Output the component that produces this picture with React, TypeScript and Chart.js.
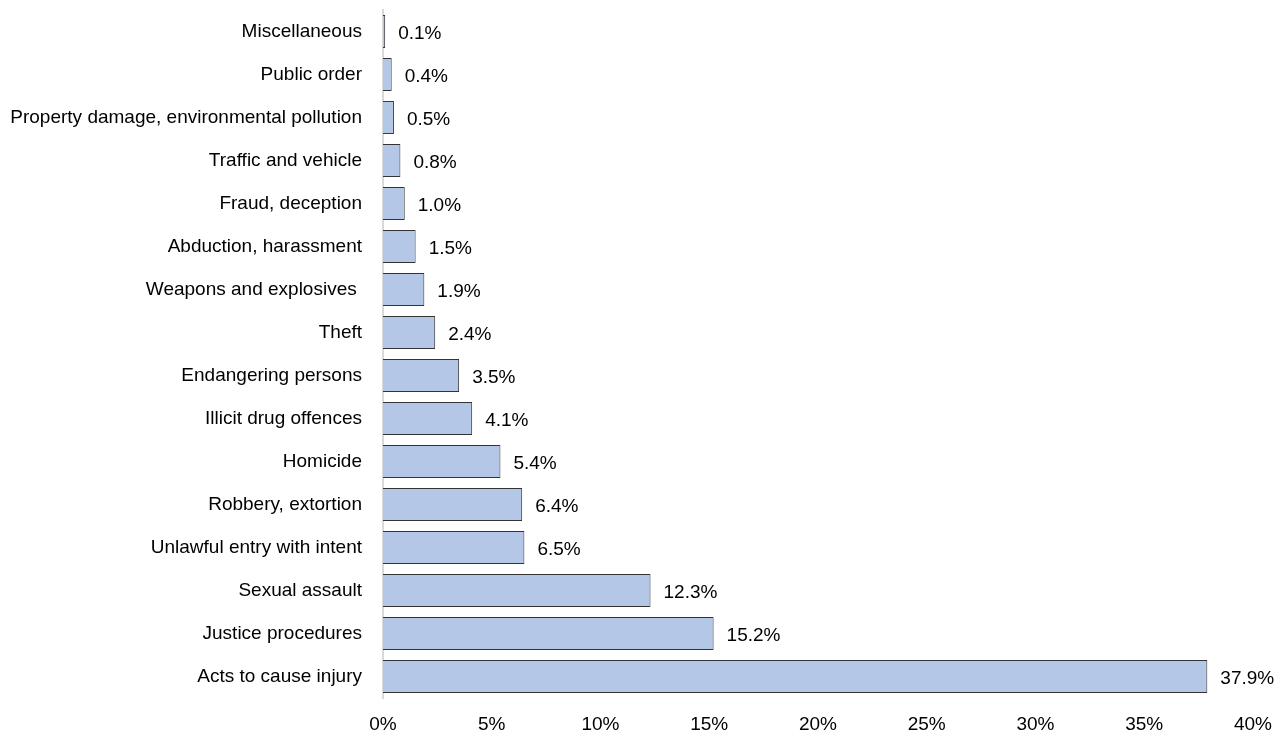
import React, { useEffect, useRef } from "react";
import { Chart, registerables } from "chart.js";

Chart.register(...registerables);

const categories: string[] = [
  "Miscellaneous",
  "Public order",
  "Property damage, environmental pollution",
  "Traffic and vehicle",
  "Fraud, deception",
  "Abduction, harassment",
  "Weapons and explosives ",
  "Theft",
  "Endangering persons",
  "Illicit drug offences",
  "Homicide",
  "Robbery, extortion",
  "Unlawful entry with intent",
  "Sexual assault",
  "Justice procedures",
  "Acts to cause injury",
];

const shares: number[] = [0.1, 0.4, 0.5, 0.8, 1.0, 1.5, 1.9, 2.4, 3.5, 4.1, 5.4, 6.4, 6.5, 12.3, 15.2, 37.9];

const xTicks: number[] = [0, 5, 10, 15, 20, 25, 30, 35, 40];

const FONT = "'Liberation Sans', Arial, sans-serif";

const valueLabels = {
  id: "valueLabels",
  afterDatasetsDraw(chart: any) {
    const ctx = chart.ctx;
    const meta = chart.getDatasetMeta(0);
    ctx.save();
    ctx.fillStyle = "#000";
    ctx.font = `19px ${FONT}`;
    ctx.textAlign = "left";
    ctx.textBaseline = "middle";
    meta.data.forEach((bar: any, i: number) => {
      const v = chart.data.datasets[0].data[i] as number;
      ctx.fillText(v.toFixed(1) + "%", bar.x + 13, bar.y + 2);
    });
    ctx.restore();
  },
};

export default function App() {
  const ref = useRef<HTMLCanvasElement | null>(null);
  useEffect(() => {
    if (!ref.current) return;
    const chart = new Chart(ref.current, {
      type: "bar",
      data: {
        labels: categories,
        datasets: [
          {
            data: shares,
            backgroundColor: "#b4c7e7",
            borderColor: "#333333",
            borderWidth: 1,
            borderSkipped: "left",
            categoryPercentage: 1,
            barPercentage: 0.77,
          },
        ],
      },
      options: {
        indexAxis: "y",
        animation: false,
        responsive: true,
        maintainAspectRatio: false,
        layout: { padding: { top: 10, right: 30, left: 0, bottom: 0 } },
        plugins: { legend: { display: false }, tooltip: { enabled: false } },
        scales: {
          x: {
            min: 0,
            max: 40,
            afterBuildTicks: (scale: any) => {
              scale.ticks = xTicks.map((v) => ({ value: v }));
            },
            afterFit: (scale: any) => {
              scale.height = 40;
            },
            grid: { display: false },
            border: { display: false },
            ticks: {
              color: "#000",
              padding: 7,
              font: { family: FONT, size: 19 },
              maxRotation: 0,
              callback: (v: any) => v + "%",
            },
          },
          y: {
            afterFit: (scale: any) => {
              scale.width = 383;
              scale.paddingTop = 0;
              scale.paddingBottom = 0;
            },
            grid: { display: false },
            border: { display: true, color: "#d9d9d9", width: 2 },
            ticks: {
              color: "#000",
              padding: 13,
              font: { family: FONT, size: 19 },
              autoSkip: false,
            },
          },
        },
      },
      plugins: [valueLabels],
    });
    return () => chart.destroy();
  }, []);
  return (
    <div style={{ position: "fixed", left: 0, top: 0, width: 1283, height: 738 }}>
      <canvas ref={ref} />
    </div>
  );
}
